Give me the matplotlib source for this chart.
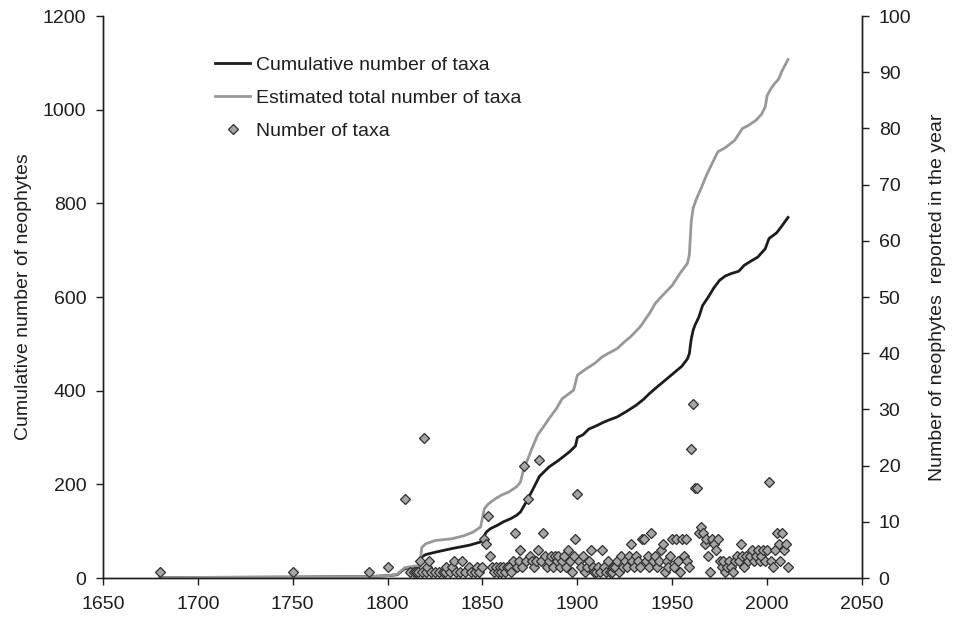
import matplotlib
matplotlib.use("Agg")
import matplotlib.pyplot as plt
from matplotlib.lines import Line2D

plt.rcParams['font.family'] = ['Liberation Sans', 'DejaVu Sans']

# cumulative number of taxa (left axis)
cum_years = [1680, 1750, 1790, 1800, 1805, 1809, 1812, 1817, 1818, 1820, 1825, 1834,
             1843, 1849, 1852, 1854, 1858, 1861, 1865, 1868, 1870, 1873, 1876, 1880,
             1885, 1890, 1896, 1899, 1900, 1903, 1906, 1910, 1914, 1917, 1921, 1926,
             1931, 1935, 1938, 1942, 1945, 1950, 1955, 1958, 1959, 1960, 1961, 1962,
             1964, 1966, 1969, 1972, 1975, 1978, 1981, 1985, 1988, 1992, 1995, 1999,
             2001, 2005, 2008, 2011]
cum_vals = [1, 2, 3, 5, 7, 20, 22, 25, 45, 50, 55, 63,
            70, 77, 98, 105, 113, 120, 127, 134, 141, 162, 185, 217,
            237, 251, 270, 282, 300, 306, 318, 325, 333, 338, 344, 356,
            369, 382, 394, 408, 418, 435, 452, 468, 479, 510, 529, 540,
            557, 582, 600, 620, 636, 645, 650, 655, 668, 678, 685, 703,
            725, 737, 753, 770]

# estimated total number of taxa (left axis)
est_years = [1680, 1750, 1790, 1800, 1805, 1809, 1812, 1817, 1818, 1820, 1825, 1834,
             1840, 1845, 1849, 1851, 1853, 1857, 1860, 1864, 1868, 1870, 1872, 1874,
             1876, 1879, 1882, 1885, 1889, 1892, 1896, 1898, 1900, 1904, 1909, 1913,
             1916, 1921, 1925, 1928, 1933, 1938, 1941, 1945, 1950, 1954, 1958, 1959,
             1960, 1961, 1963, 1965, 1968, 1971, 1974, 1978, 1983, 1987, 1990, 1994,
             1997, 1999, 2000, 2002, 2004, 2006, 2008, 2011]
est_vals = [1, 2, 3, 5, 8, 22, 24, 27, 65, 73, 80, 84,
            90, 98, 109, 148, 158, 170, 177, 184, 195, 205, 237, 255,
            276, 305, 322, 340, 362, 383, 395, 401, 433, 445, 458, 472,
            479, 490, 505, 515, 536, 565, 586, 604, 625, 650, 672, 690,
            760, 790, 812, 830, 860, 885, 910, 919, 935, 960, 966, 977,
            990, 1006, 1030, 1045, 1056, 1065, 1084, 1107]

# number of taxa reported per year (right axis)
rep_years = [1680, 1750, 1790, 1800, 1809,
             1812, 1814, 1815, 1816, 1817, 1818, 1819, 1820, 1821, 1822, 1823, 1825,
             1827, 1829, 1830, 1831, 1833, 1834, 1835, 1836, 1838, 1839, 1841, 1843,
             1844, 1846, 1847, 1848,
             1850, 1851, 1852, 1853, 1854, 1855, 1856, 1857, 1858, 1859,
             1860, 1861, 1862, 1863, 1864, 1865, 1866, 1867, 1868, 1869,
             1870, 1871, 1872, 1873, 1874, 1875, 1876, 1877, 1878, 1879,
             1880, 1881, 1882, 1883, 1884, 1885, 1886, 1887, 1888, 1889,
             1890, 1891, 1892, 1893, 1894, 1895, 1896, 1897, 1898, 1899,
             1900, 1901, 1902, 1903, 1904, 1905, 1906, 1907, 1908, 1909,
             1910, 1911, 1912, 1913, 1914, 1915, 1916, 1917, 1918, 1919,
             1920, 1921, 1922, 1923, 1924, 1925, 1926, 1927, 1928, 1929,
             1930, 1931, 1932, 1933, 1934, 1935, 1936, 1937, 1938, 1939,
             1940, 1941, 1942, 1943, 1944, 1945, 1946, 1947, 1948, 1949,
             1950, 1951, 1952, 1953, 1954, 1955, 1956, 1957, 1958, 1959,
             1960, 1961, 1962, 1963, 1964, 1965, 1966, 1967, 1968, 1969,
             1970, 1971, 1972, 1973, 1974, 1975, 1976, 1977, 1978, 1979,
             1980, 1981, 1982, 1983, 1984, 1985, 1986, 1987, 1988, 1989,
             1990, 1991, 1992, 1993, 1994, 1995, 1996, 1997, 1998, 1999,
             2000, 2001, 2002, 2003, 2004, 2005, 2006, 2007, 2008, 2009,
             2010, 2011]
rep_counts = [1, 1, 1, 2, 14,
              1, 1, 1, 1, 3, 1, 25, 1, 2, 3, 1, 1,
              1, 1, 1, 2, 1, 2, 3, 1, 1, 3, 1, 2,
              1, 1, 2, 1,
              2, 7, 6, 11, 4, 2, 1, 2, 1, 2,
              1, 2, 1, 2, 2, 1, 3, 8, 2, 3,
              5, 2, 20, 3, 14, 4, 3, 2, 3, 5,
              21, 3, 8, 4, 2, 3, 4, 2, 4, 3,
              4, 2, 3, 4, 2, 5, 3, 1, 4, 7,
              15, 3, 2, 4, 1, 2, 3, 5, 2, 1,
              1, 2, 1, 5, 2, 1, 3, 1, 1, 2,
              2, 3, 1, 4, 2, 3, 2, 4, 6, 3,
              2, 4, 3, 2, 7, 7, 3, 4, 2, 8,
              3, 4, 2, 3, 5, 6, 1, 3, 2, 4,
              7, 2, 7, 3, 1, 7, 4, 7, 3, 2,
              23, 31, 16, 16, 8, 9, 8, 6, 7, 4,
              1, 7, 6, 5, 7, 3, 2, 3, 1, 2,
              3, 2, 1, 3, 4, 3, 6, 4, 2, 4,
              3, 4, 5, 3, 4, 5, 3, 4, 5, 3,
              5, 17, 3, 2, 5, 8, 6, 3, 8, 5,
              6, 2]

txt = '#1e1e1e'
fs = 14

fig = plt.figure(figsize=(9.58, 6.21), dpi=100)
ax = fig.add_axes([0.1075, 0.0692, 0.7923, 0.905])
ax2 = ax.twinx()

ax.plot(cum_years, cum_vals, color='#1c1c1c', lw=2.0, solid_joinstyle='round')
ax.plot(est_years, est_vals, color='#989898', lw=2.0, solid_joinstyle='round')
ax2.plot(rep_years, rep_counts, linestyle='none', marker='D', markersize=5.2,
         markerfacecolor='#a5a5a5', markeredgecolor='#303030', markeredgewidth=0.9)

ax.set_xlim(1650, 2050)
ax.set_ylim(0, 1200)
ax2.set_ylim(0, 100)
ax.set_xticks(range(1650, 2051, 50))
ax.set_yticks(range(0, 1201, 200))
ax2.set_yticks(range(0, 101, 10))

for a in (ax, ax2):
    a.spines['top'].set_visible(False)
    for s in a.spines.values():
        s.set_linewidth(1.0)
        s.set_color(txt)
    a.tick_params(direction='out', length=5, width=1.0, colors=txt,
                  labelsize=fs, pad=7)
ax.tick_params(axis='x', pad=8)

ax.set_ylabel('Cumulative number of neophytes', fontsize=fs, color=txt)
ax2.set_ylabel('Number of neophytes  reported in the year', fontsize=fs, color=txt)
ax.yaxis.set_label_coords(-0.093, 0.5)
ax2.yaxis.set_label_coords(1.088, 0.5)

handles = [
    Line2D([], [], color='#1c1c1c', lw=2.0),
    Line2D([], [], color='#989898', lw=2.0),
    Line2D([], [], linestyle='none', marker='D', markersize=5,
           markerfacecolor='#a5a5a5', markeredgecolor='#303030', markeredgewidth=0.9),
]
labels = ['Cumulative number of taxa', 'Estimated total number of taxa', 'Number of taxa']
leg = ax2.legend(handles, labels, loc='upper left', bbox_to_anchor=(0.1476, 0.928),
                 frameon=False, fontsize=fs, handlelength=1.8, handletextpad=0.3,
                 labelspacing=0.78, borderaxespad=0, borderpad=0)
for t in leg.get_texts():
    t.set_color(txt)

fig.savefig('out.png', dpi=100)
